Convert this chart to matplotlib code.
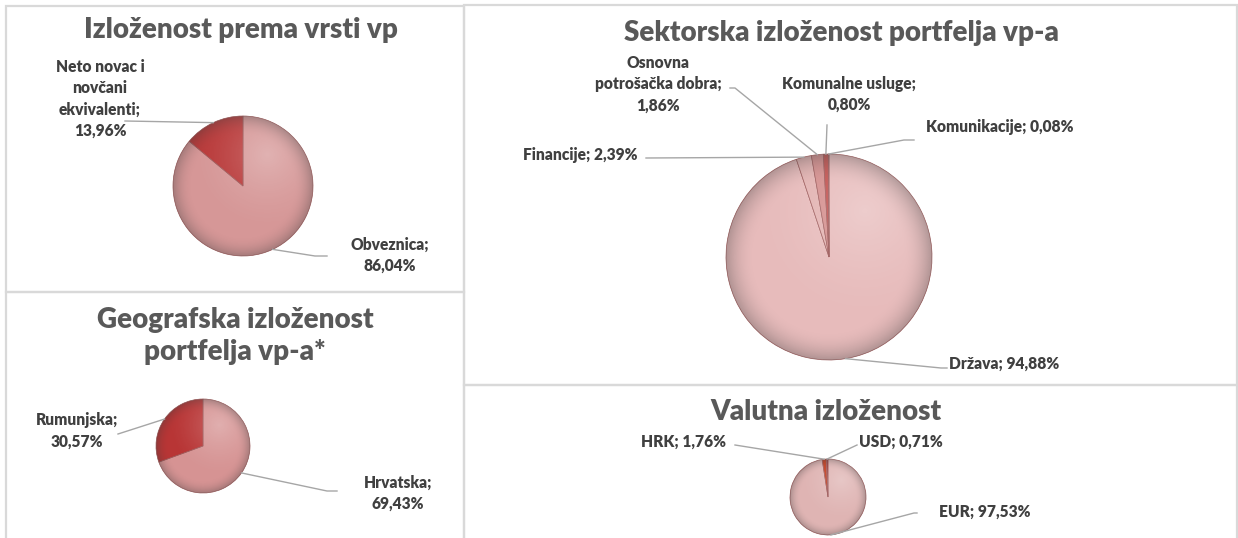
import numpy as np
import matplotlib
matplotlib.use("Agg")
import matplotlib.pyplot as plt
from matplotlib.patches import Rectangle, Circle
from matplotlib.lines import Line2D

plt.rcParams['font.family'] = ['Lato', 'DejaVu Sans']

# ---------------- data ----------------
vrsta_labels = ["Obveznica", "Neto novac i\nnovčani\nekvivalenti"]
vrsta_values = [86.04, 13.96]

geo_labels = ["Hrvatska", "Rumunjska"]
geo_values = [69.43, 30.57]

sektor_labels = ["Država", "Financije", "Osnovna\npotrošačka dobra", "Komunalne usluge", "Komunikacije"]
sektor_values = [94.88, 2.39, 1.86, 0.80, 0.08]

valuta_labels = ["EUR", "HRK", "USD"]
valuta_values = [97.53, 1.76, 0.71]

titles = ["Izloženost prema vrsti vp", "Geografska izloženost\nportfelja vp-a*",
          "Sektorska izloženost portfelja vp-a", "Valutna izloženost"]

W, H = 1238, 538
fig = plt.figure(figsize=(W / 100, H / 100), dpi=100)
fig.patch.set_facecolor("white")

TITLE_C = "#595959"
LABEL_C = "#404040"
LINE_C = "#A6A6A6"
BORDER_C = "#D9D9D9"
WEIGHT = "heavy"


def fx(x):
    return x / W


def fy(y):
    return 1 - y / H


def fmt(v):
    return f"{v:.2f}".replace(".", ",") + "%"


# panel borders
for (x0, y0, x1, y1) in [(5.5, 5.5, 464, 292), (5.5, 292, 464, 545),
                         (464, 5.5, 1237, 385), (464, 385, 1237, 545)]:
    fig.add_artist(Rectangle((fx(x0), fy(y1)), fx(x1) - fx(x0), fy(y0) - fy(y1),
                             transform=fig.transFigure, facecolor="none",
                             edgecolor=BORDER_C, linewidth=1.6, zorder=0))


def shading(ax):
    n = 300
    xs = np.linspace(-1, 1, n)
    X, Y = np.meshgrid(xs, xs[::-1])
    R = np.sqrt(X ** 2 + Y ** 2)
    rgba = np.zeros((n, n, 4))
    d = np.sqrt((X - 0.35) ** 2 + (Y - 0.45) ** 2)
    hl = np.clip(1 - d / 1.1, 0, 1) ** 1.5 * 0.26
    rim = np.clip((R - 0.72) / 0.28, 0, 1) ** 2 * 0.32
    alpha = hl + rim
    col = (hl[..., None] * 1.0 + rim[..., None] * 0.25) / np.maximum(alpha[..., None], 1e-6)
    rgba[..., :3] = np.clip(col, 0, 1)
    rgba[..., 3] = np.clip(alpha, 0, 1)
    im = ax.imshow(rgba, extent=[-1, 1, -1, 1], zorder=3, interpolation="bilinear")
    im.set_clip_path(Circle((0, 0), 1, transform=ax.transData))
    ax.set_xlim(-1, 1)
    ax.set_ylim(-1, 1)
    ax.set_aspect("auto")


def make_pie(cx, cy, r, values, colors):
    ax = fig.add_axes([fx(cx - r), fy(cy + r), 2 * r / W, 2 * r / H])
    wedges, _ = ax.pie(values, colors=colors, startangle=90, counterclock=False,
                       radius=1, wedgeprops=dict(edgecolor="#9C5A5A", linewidth=0.5))
    ax.set_xlim(-1, 1)
    ax.set_ylim(-1, 1)
    ax.set_aspect("auto")
    ax.axis("off")
    shading(ax)
    return ax, wedges


def leader(ax, wedge, pts):
    th = np.deg2rad((wedge.theta1 + wedge.theta2) / 2)
    disp = ax.transData.transform((np.cos(th), np.sin(th)))
    fig_pt = fig.transFigure.inverted().transform(disp)
    xs = [fig_pt[0]] + [fx(p[0]) for p in pts]
    ys = [fig_pt[1]] + [fy(p[1]) for p in pts]
    fig.add_artist(Line2D(xs, ys, transform=fig.transFigure, color=LINE_C, linewidth=1.0))


def label(x, y, s, ha="center", ls=1.4):
    fig.text(fx(x), fy(y), s, ha=ha, va="center", fontsize=11.2, fontweight=WEIGHT,
             color=LABEL_C, linespacing=ls, multialignment="center")


def title(x, y, s):
    fig.text(fx(x), fy(y), s, ha="center", va="center", fontsize=20.0, fontweight=WEIGHT,
             color=TITLE_C, linespacing=1.32)


# ---- panel 1 ----
title(241, 30, titles[0])
ax1, w1 = make_pie(243, 186, 70, vrsta_values, ["#D69797", "#B93A3A"])
label(390, 255, f"{vrsta_labels[0]};\n{fmt(vrsta_values[0])}")
label(100, 99, f"{vrsta_labels[1]};\n{fmt(vrsta_values[1])}")
leader(ax1, w1[0], [(315, 256), (327, 256)])
leader(ax1, w1[1], [(125, 121)])

# ---- panel 2 ----
title(235, 336, titles[1])
ax2, w2 = make_pie(203, 446, 47, geo_values, ["#D69393", "#B83535"])
label(398, 493, f"{geo_labels[0]};\n{fmt(geo_values[0])}")
label(77, 431, f"{geo_labels[1]};\n{fmt(geo_values[1])}")
leader(ax2, w2[0], [(327, 491), (337, 491)])
leader(ax2, w2[1], [(118, 434)])

# ---- panel 3 ----
title(841, 33, titles[2])
ax3, w3 = make_pie(829, 257, 103, sektor_values,
                   ["#E7BBBB", "#E3B3B2", "#D48E8D", "#C0504D", "#8E2A2A"])
label(949, 364, f"{sektor_labels[0]}; {fmt(sektor_values[0])}", ha="left")
label(523, 155, f"{sektor_labels[1]}; {fmt(sektor_values[1])}", ha="left")
label(658, 84, f"{sektor_labels[2]};\n{fmt(sektor_values[2])}")
label(849, 94.5, f"{sektor_labels[3]};\n{fmt(sektor_values[3])}")
label(926, 127, f"{sektor_labels[4]}; {fmt(sektor_values[4])}", ha="left")
leader(ax3, w3[0], [(941, 368), (947, 368)])
leader(ax3, w3[1], [(646, 158)])
leader(ax3, w3[2], [(735, 88), (730, 88)])
leader(ax3, w3[3], [(827, 125)])
leader(ax3, w3[4], [(904, 140), (914, 140)])

# ---- panel 4 ----
title(826, 412, titles[3])
ax4, w4 = make_pie(828, 497, 38, valuta_values, ["#DFB4B3", "#C0391B", "#8E2A2A"])
label(939, 512, f"{valuta_labels[0]}; {fmt(valuta_values[0])}", ha="left")
label(641, 442, f"{valuta_labels[1]}; {fmt(valuta_values[1])}", ha="left")
label(859, 442, f"{valuta_labels[2]}; {fmt(valuta_values[2])}", ha="left")
leader(ax4, w4[0], [(914, 513), (917, 513)])
leader(ax4, w4[1], [(735, 445)])
leader(ax4, w4[2], [(857, 445)])

fig.savefig("out.png", dpi=100)
